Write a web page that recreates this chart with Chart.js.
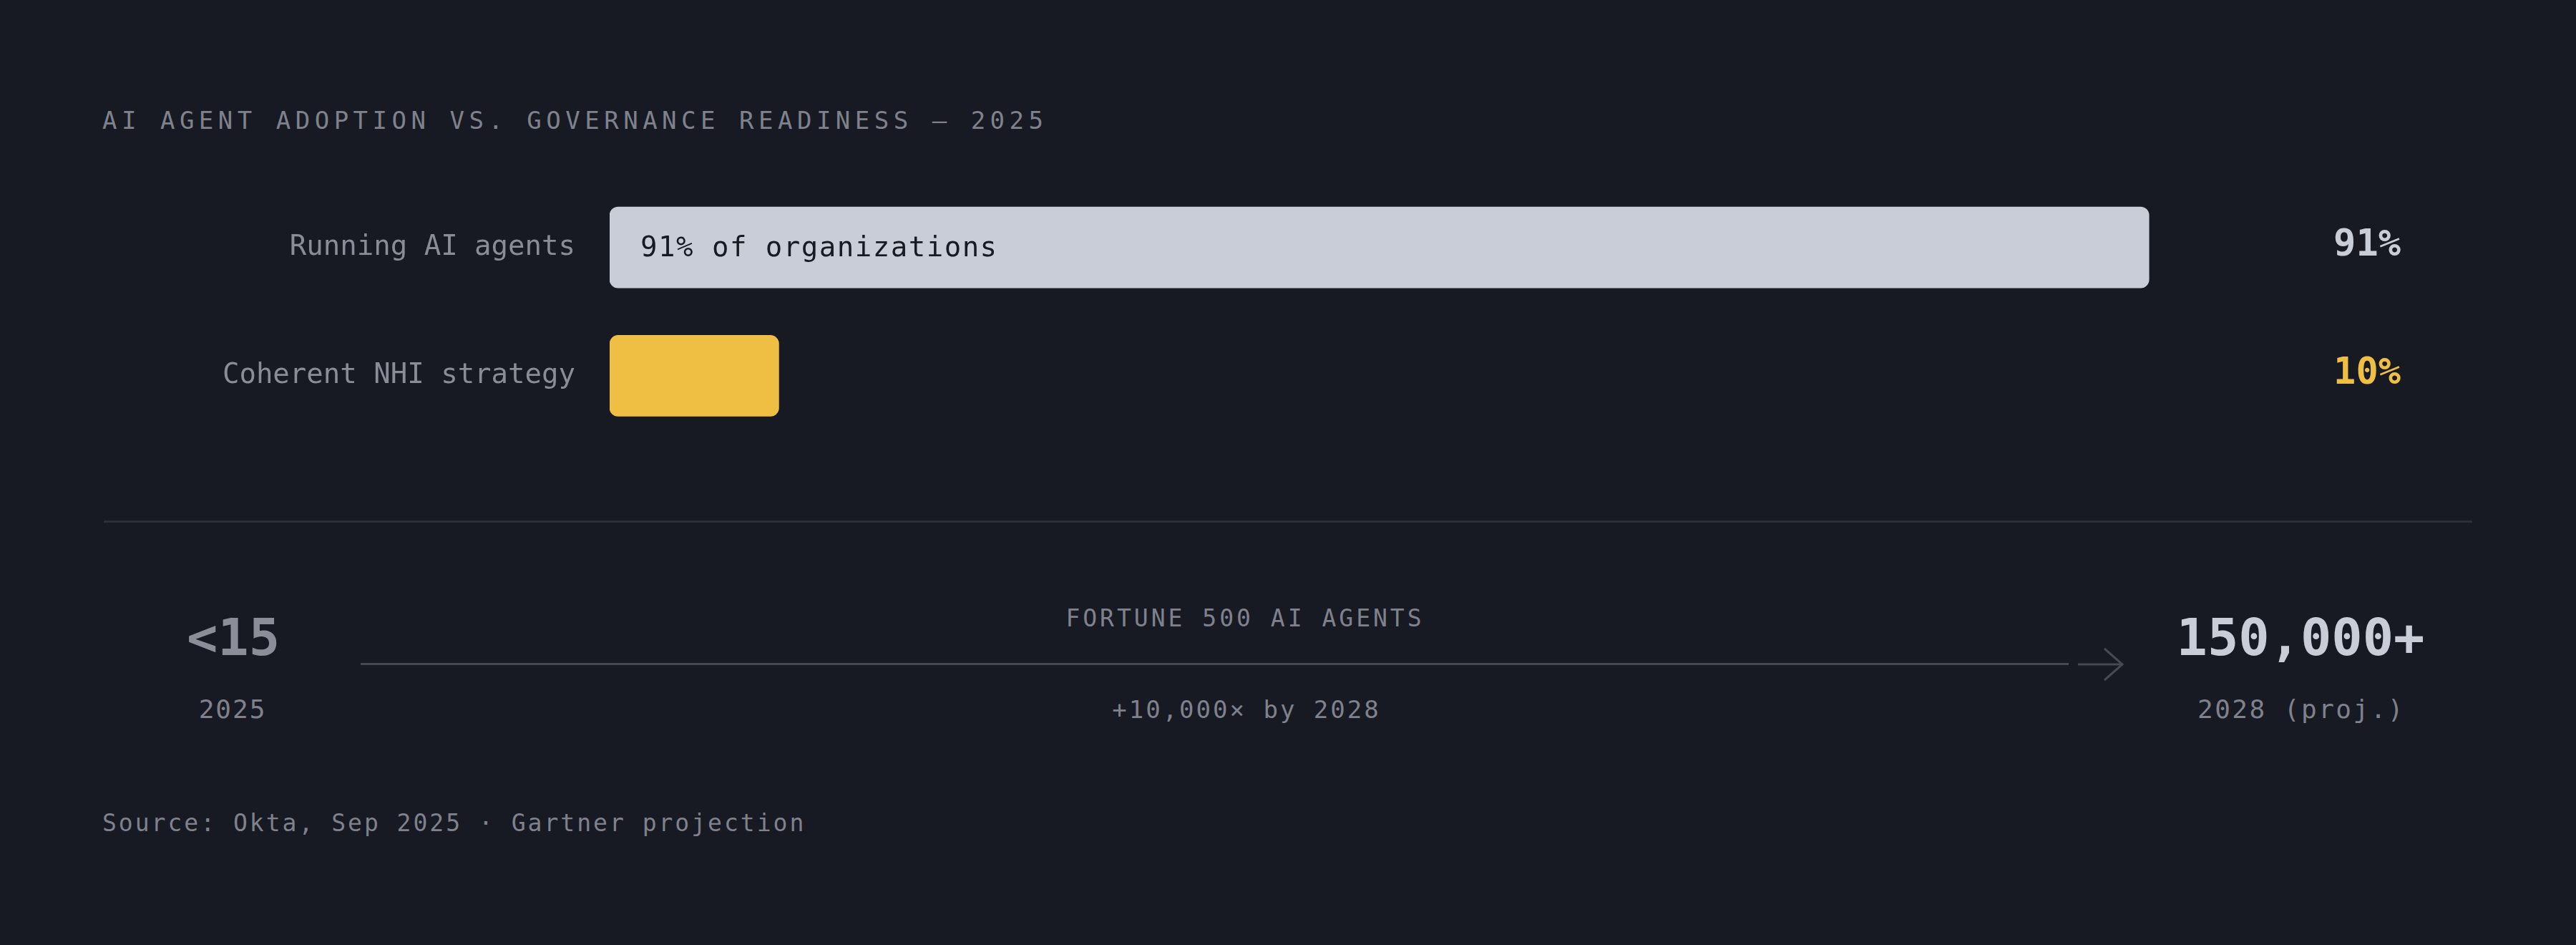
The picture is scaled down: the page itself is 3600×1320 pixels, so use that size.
<!DOCTYPE html>
<html>
<head>
<meta charset="utf-8">
<script src="https://cdn.jsdelivr.net/npm/chart.js@4/dist/chart.umd.min.js"></script>
<style>
	html, body { margin: 0; padding: 0; background: #171a23; }
	body { width: 3600px; height: 1320px; position: relative; overflow: hidden; font-family: 'DejaVu Sans Mono', monospace; }
	.t { position: absolute; white-space: nowrap; line-height: 1; }
	.c { width: 1000px; text-align: center; }
	#title { left: 143px; top: 151px; font-size: 34px; letter-spacing: 6.5px; color: #7f828d; }
	#chartBox { position: absolute; left: 0; top: 0; width: 3600px; height: 686px; }
	#divider { position: absolute; left: 145px; top: 727px; width: 3310px; height: 3px; background: #2c2f38; }
	#from { left: -174px; top: 854px; font-size: 72px; font-weight: bold; color: #8b8e99; }
	#fromYear { left: -175px; top: 973px; font-size: 36px; letter-spacing: 2px; color: #7f828d; }
	#midTitle { left: 1240px; top: 847px; font-size: 33px; letter-spacing: 4px; color: #7f828d; }
	#midNote { left: 1242px; top: 974px; font-size: 34px; letter-spacing: 3px; color: #7f828d; }
	#to { left: 2715px; top: 854px; font-size: 72px; font-weight: bold; color: #c9cdd8; }
	#toYear { left: 2716px; top: 973px; font-size: 36px; letter-spacing: 2.5px; color: #7f828d; }
	#line { position: absolute; left: 504px; top: 926px; width: 2387px; height: 3px; background: #464953; }
	#arrow { position: absolute; left: 2900px; top: 895px; }
	#source { left: 143px; top: 1133px; font-size: 33px; letter-spacing: 3px; color: #7f828d; }
</style>
</head>
<body>
<div id="title" class="t"></div>
<div id="chartBox"><canvas id="bars"></canvas></div>
<div id="divider"></div>
<div id="from" class="t c"></div>
<div id="fromYear" class="t c"></div>
<div id="midTitle" class="t c"></div>
<div id="line"></div>
<svg id="arrow" width="72" height="66" viewBox="0 0 72 66">
	<line x1="4" y1="33" x2="64" y2="33" stroke="#464953" stroke-width="3"/>
	<polyline points="41,11 66,33 41,55" fill="none" stroke="#464953" stroke-width="3"/>
</svg>
<div id="midNote" class="t c"></div>
<div id="to" class="t c"></div>
<div id="toYear" class="t c"></div>
<div id="source" class="t"></div>
<script>
const title = 'AI AGENT ADOPTION VS. GOVERNANCE READINESS — 2025';
const categories = ['Running AI agents', 'Coherent NHI strategy'];
const shares = [91, 10];
const barNotes = ['91% of organizations', ''];
const barColors = ['#c9cdd8', '#efbf43'];
const axisMax = 100;

const agentsFrom = '<15';
const agentsFromYear = '2025';
const agentsTo = '150,000+';
const agentsToYear = '2028 (proj.)';
const agentsTitle = 'FORTUNE 500 AI AGENTS';
const agentsGrowth = '+10,000× by 2028';
const source = 'Source: Okta, Sep 2025 · Gartner projection';

document.getElementById('title').textContent = title;
document.getElementById('from').textContent = agentsFrom;
document.getElementById('fromYear').textContent = agentsFromYear;
document.getElementById('to').textContent = agentsTo;
document.getElementById('toYear').textContent = agentsToYear;
document.getElementById('midTitle').textContent = agentsTitle;
document.getElementById('midNote').textContent = agentsGrowth;
document.getElementById('source').textContent = source;

Chart.defaults.font.family = "'DejaVu Sans Mono', monospace";

// values at the right and the note inside the first bar
const barLabels = {
	id: 'barLabels',
	afterDatasetsDraw(chart) {
		const ctx = chart.ctx;
		const meta = chart.getDatasetMeta(0);
		ctx.save();
		ctx.textBaseline = 'middle';
		meta.data.forEach(function(bar, i) {
			if (barNotes[i]) {
				ctx.font = "39px 'DejaVu Sans Mono'";
				ctx.fillStyle = '#171a23';
				ctx.textAlign = 'left';
				if ('letterSpacing' in ctx) ctx.letterSpacing = '1.5px';
				ctx.fillText(barNotes[i], bar.base + 43, bar.y + 2);
				if ('letterSpacing' in ctx) ctx.letterSpacing = '0px';
			}
			ctx.font = "bold 52px 'DejaVu Sans Mono'";
			ctx.fillStyle = barColors[i];
			ctx.textAlign = 'right';
			ctx.fillText(shares[i] + '%', chart.chartArea.right + 139, bar.y - 2);
		});
		ctx.restore();
	}
};

const ctx = document.getElementById('bars').getContext('2d');
const chart = new Chart(ctx, {
	type: 'bar',
	data: {
		labels: categories,
		datasets: [
			{
				data: shares,
				backgroundColor: barColors,
				borderRadius: 12,
				borderSkipped: false,
				barThickness: 113
			}
		]
	},
	options: {
		indexAxis: 'y',
		responsive: true,
		maintainAspectRatio: false,
		animation: false,
		layout: { padding: { top: 256, bottom: 26, right: 384, left: 0 } },
		plugins: {
			legend: { display: false },
			tooltip: { enabled: false }
		},
		scales: {
			x: { display: false, min: 0, max: axisMax },
			y: {
				afterFit: function(scale) { scale.width = 852; },
				grid: { display: false, drawTicks: false },
				border: { display: false },
				ticks: {
					color: '#8a8d98',
					padding: 48,
					font: { size: 39 }
				}
			}
		}
	},
	plugins: [barLabels]
});
</script>
</body>
</html>
